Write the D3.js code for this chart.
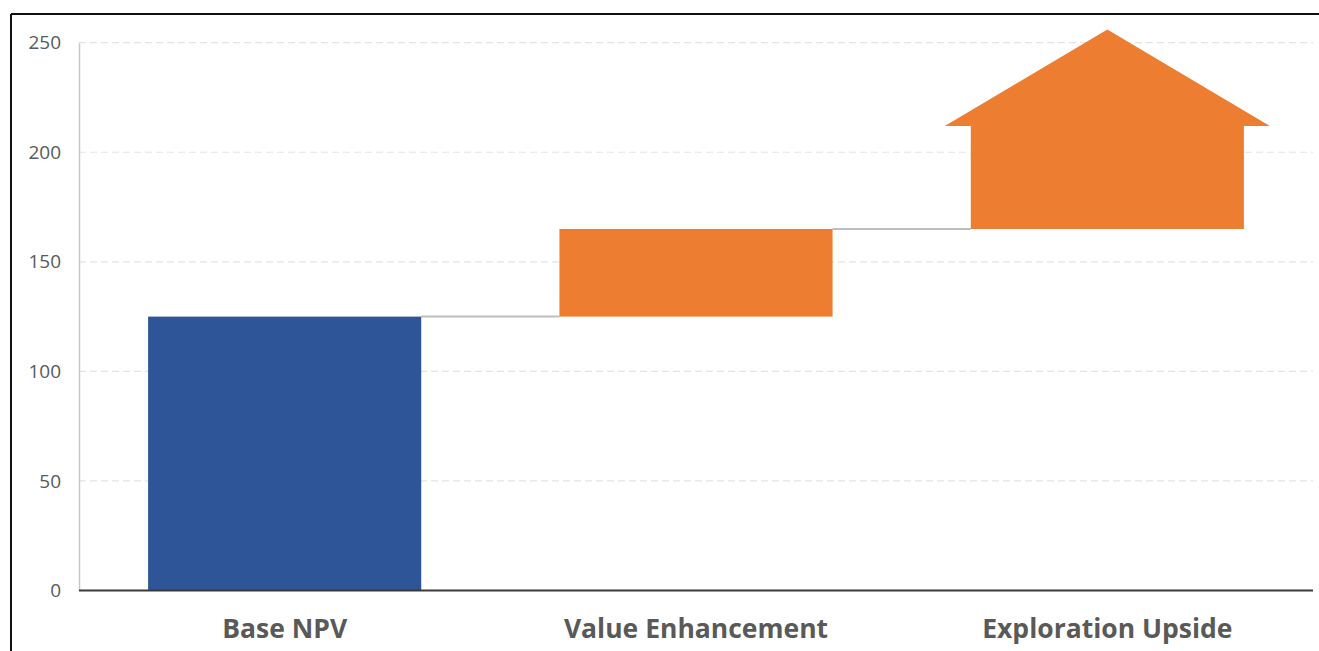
<!DOCTYPE html>
<html><head><meta charset="utf-8">
<script src="https://cdn.jsdelivr.net/npm/d3@7"></script>
<style>
html,body{margin:0;padding:0;background:#fff;}
svg{display:block;}
</style></head>
<body>
<svg id="chart" width="1319" height="651"></svg>
<script>
const categories = ["Base NPV", "Value Enhancement", "Exploration Upside"];
const barStart = [0, 125, 165];
const barEnd = [125, 165, 212];
const arrowTip = [null, null, 256];
const barColors = ["#2e5597", "#ed7d31", "#ed7d31"];
const yTicks = [0, 50, 100, 150, 200, 250];

const svg = d3.select("#chart");
const W = 1319, H = 651;
const left = 79, right = 1313, y0px = 590.5, y250px = 42.7;

const x = d3.scaleBand().domain(categories).range([left, right]).paddingInner(0.336).paddingOuter(0.168);
const y = d3.scaleLinear().domain([0, 250]).range([y0px, y250px]);

// outer frame
svg.append("line").attr("x1", 11).attr("x2", W).attr("y1", 14).attr("y2", 14).attr("stroke", "#111").attr("stroke-width", 2);
svg.append("line").attr("x1", 11).attr("x2", 11).attr("y1", 14).attr("y2", H).attr("stroke", "#111").attr("stroke-width", 2);

// gridlines
svg.append("g").selectAll("line").data(yTicks.filter(d => d > 0)).join("line")
  .attr("x1", left).attr("x2", right)
  .attr("y1", d => y(d)).attr("y2", d => y(d))
  .attr("stroke", "#e3e3e3").attr("stroke-width", 1.2).attr("stroke-dasharray", "7,4");

// y axis
const yAxis = svg.append("g").attr("transform", `translate(${left},0)`)
  .call(d3.axisLeft(y).tickValues(yTicks).tickSize(0).tickPadding(18));
yAxis.select(".domain").attr("stroke", "#c8c8c8").attr("stroke-width", 1.5);
yAxis.selectAll("text").attr("fill", "#595959").style("font-family", "'Open Sans', sans-serif").style("font-size", "19px");

// connectors
const conn = d3.range(categories.length - 1);
svg.append("g").selectAll("line").data(conn).join("line")
  .attr("x1", i => x(categories[i]) + x.bandwidth())
  .attr("x2", i => x(categories[i + 1]))
  .attr("y1", i => y(barEnd[i])).attr("y2", i => y(barEnd[i]))
  .attr("stroke", "#bdbdbd").attr("stroke-width", 2);

// bars / arrow
const bw = x.bandwidth();
const wing = bw * 0.095;
categories.forEach((c, i) => {
  const x0 = x(c), x1 = x0 + bw;
  if (arrowTip[i] == null) {
    svg.append("rect").attr("x", x0).attr("y", y(barEnd[i]))
      .attr("width", bw).attr("height", y(barStart[i]) - y(barEnd[i]))
      .attr("fill", barColors[i]);
  } else {
    const pts = [
      [x0, y(barStart[i])], [x0, y(barEnd[i])], [x0 - wing, y(barEnd[i])],
      [x0 + bw / 2, y(arrowTip[i])],
      [x1 + wing, y(barEnd[i])], [x1, y(barEnd[i])], [x1, y(barStart[i])]
    ];
    svg.append("path").attr("d", d3.line()(pts) + "Z").attr("fill", barColors[i]);
  }
});

// baseline
svg.append("line").attr("x1", left).attr("x2", right).attr("y1", y(0)).attr("y2", y(0))
  .attr("stroke", "#3a3a3a").attr("stroke-width", 2);

// category labels
svg.append("g").selectAll("text").data(categories).join("text")
  .attr("x", c => x(c) + bw / 2).attr("y", 638)
  .attr("text-anchor", "middle")
  .attr("fill", "#595959")
  .style("font-family", "'Open Sans', sans-serif").style("font-weight", "700").style("font-size", "26.5px")
  .text(c => c);
</script>
</body></html>
